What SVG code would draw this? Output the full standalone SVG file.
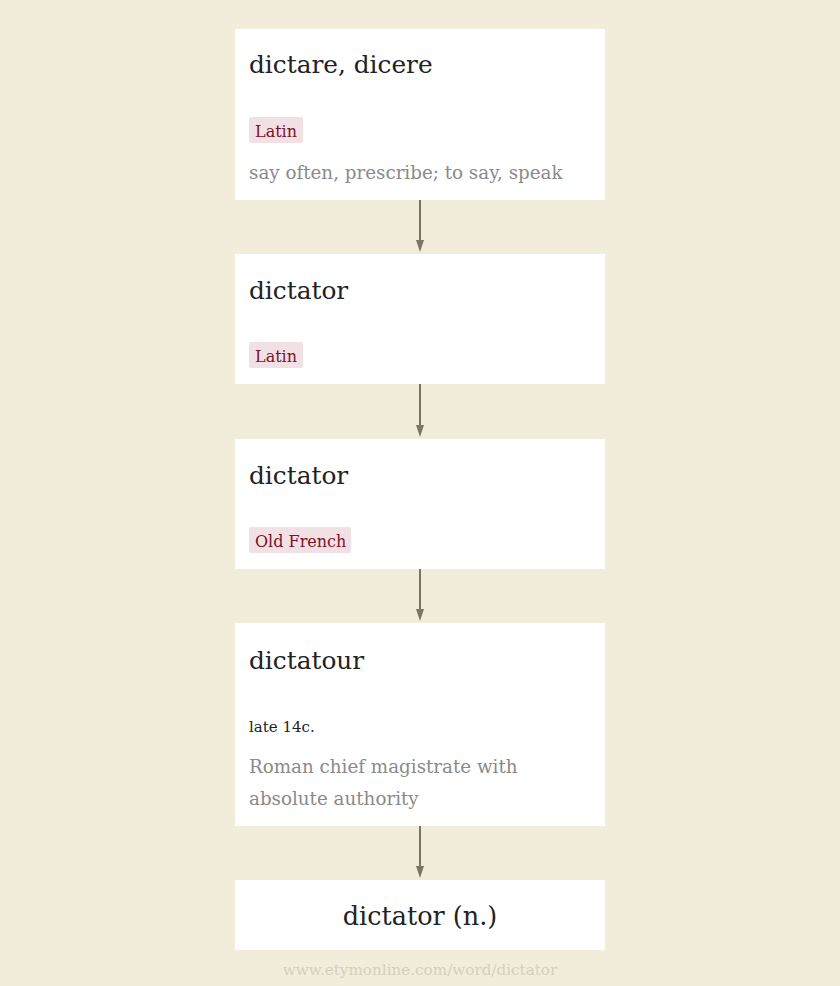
<svg xmlns="http://www.w3.org/2000/svg" width="840" height="986" viewBox="0 0 840 986">
<style>
.box{fill:#ffffff}
.title{font-family:"DejaVu Serif","Liberation Serif",serif;font-size:24.8px;fill:#222222}
.tag{fill:#f2e1e4}
.tagt{font-family:"DejaVu Serif","Liberation Serif",serif;font-size:16px;fill:#80102a}
.desc{font-family:"DejaVu Serif","Liberation Serif",serif;font-size:18.3px;fill:#8a8a8a}
.date{font-family:"DejaVu Serif","Liberation Serif",serif;font-size:15px;fill:#222222}
.conn{stroke:#7b7566;stroke-width:2;fill:none}
.head{fill:#7b7566}
.foot{font-family:"DejaVu Serif","Liberation Serif",serif;font-size:15.2px;fill:#d6cfbd}
</style>
<rect x="0" y="0" width="840" height="986" fill="#f2ecdb"/>
<g id="connectors">
<path class="conn" d="M420,200 V241"/><path class="head" d="M416,240 L424,240 L420,252 Z"/>
<path class="conn" d="M420,384 V426"/><path class="head" d="M416,425 L424,425 L420,437 Z"/>
<path class="conn" d="M420,569 V610"/><path class="head" d="M416,609 L424,609 L420,621 Z"/>
<path class="conn" d="M420,826 V867"/><path class="head" d="M416,866 L424,866 L420,878 Z"/>
</g>
<g id="node1">
<rect class="box" x="235" y="29" width="370" height="171"/>
<text class="title" x="249" y="73">dictare, dicere</text>
<rect class="tag" x="249" y="117" width="54" height="26" rx="2"/>
<text class="tagt" x="255" y="137">Latin</text>
<text class="desc" x="249" y="179">say often, prescribe; to say, speak</text>
</g>
<g id="node2">
<rect class="box" x="235" y="254" width="370" height="130"/>
<text class="title" x="249" y="299">dictator</text>
<rect class="tag" x="249" y="342" width="54" height="26" rx="2"/>
<text class="tagt" x="255" y="362">Latin</text>
</g>
<g id="node3">
<rect class="box" x="235" y="439" width="370" height="130"/>
<text class="title" x="249" y="484">dictator</text>
<rect class="tag" x="249" y="527" width="102" height="26" rx="2"/>
<text class="tagt" x="255" y="547">Old French</text>
</g>
<g id="node4">
<rect class="box" x="235" y="623" width="370" height="203"/>
<text class="title" x="249" y="669">dictatour</text>
<text class="date" x="249" y="732">late 14c.</text>
<text class="desc" x="249" y="773">Roman chief magistrate with</text>
<text class="desc" x="249" y="805">absolute authority</text>
</g>
<g id="node5">
<rect class="box" x="235" y="880" width="370" height="70"/>
<text class="title" x="420" y="925" text-anchor="middle" style="font-size:25.5px">dictator (n.)</text>
</g>
<text class="foot" x="420" y="975" text-anchor="middle">www.etymonline.com/word/dictator</text>
</svg>
